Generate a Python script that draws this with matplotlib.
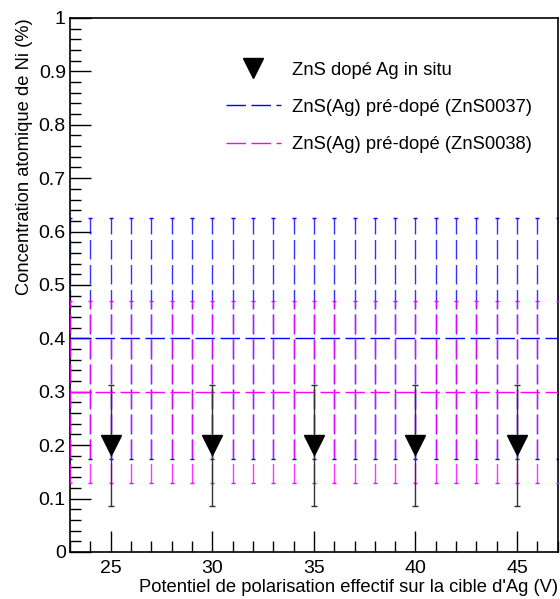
import matplotlib
matplotlib.use("Agg")
import matplotlib.pyplot as plt
from matplotlib.lines import Line2D
from matplotlib.ticker import MultipleLocator

plt.rcParams['font.family'] = ['Liberation Sans', 'DejaVu Sans']

# série "in situ"
x_insitu = [25, 30, 35, 40, 45]
y_insitu = [0.2, 0.2, 0.2, 0.2, 0.2]
err_insitu = [0.113, 0.113, 0.113, 0.113, 0.113]

# séries pré-dopées (valeur constante sur toute la gamme)
x_ref = list(range(23, 48))
y_0037 = [0.4] * len(x_ref)
err_0037 = [0.225] * len(x_ref)
y_0038 = [0.3] * len(x_ref)
err_0038 = [0.17] * len(x_ref)

labels = ["ZnS dopé Ag in situ",
          "ZnS(Ag) pré-dopé (ZnS0037)",
          "ZnS(Ag) pré-dopé (ZnS0038)"]

fig = plt.figure(figsize=(5.6, 5.99), dpi=100)
ax = fig.add_axes([0.125, 0.0785, 0.871, 0.8915])

dash = (0, (14, 4))

eb1 = ax.errorbar(x_ref, y_0037, yerr=err_0037, color='#0000ff', lw=1,
                  ls=dash, capsize=1.5, elinewidth=1, zorder=2)
eb1[2][0].set_linestyle(dash)
eb1[2][0].set_alpha(0.8)

eb2 = ax.errorbar(x_ref, y_0038, yerr=err_0038, color='#ff00ff', lw=1,
                  ls=dash, capsize=1.5, elinewidth=1, zorder=3)
eb2[2][0].set_linestyle(dash)
eb2[2][0].set_alpha(0.8)

ax.errorbar(x_insitu, y_insitu, yerr=err_insitu, fmt='v', color='black',
            markersize=14, ecolor='#333333', elinewidth=1, capsize=2, zorder=4)

ax.set_xlim(23, 47)
ax.set_ylim(0, 1)
ax.xaxis.set_major_locator(MultipleLocator(5))
ax.xaxis.set_minor_locator(MultipleLocator(1))
ax.yaxis.set_major_locator(MultipleLocator(0.1))
ax.yaxis.set_minor_locator(MultipleLocator(0.02))
ax.yaxis.set_major_formatter(plt.FuncFormatter(lambda v, p: "0" if v == 0 else ("1" if abs(v - 1) < 1e-9 else f"{v:.1f}")))
ax.tick_params(which='both', direction='in', top=False, right=False, labelsize=14)
ax.tick_params(which='major', length=15, width=1)
ax.tick_params(which='minor', length=8, width=1)
ax.tick_params(axis='x', pad=6)
ax.tick_params(axis='y', pad=3)
for s in ax.spines.values():
    s.set_linewidth(1.2)

ax.set_xlabel("Potentiel de polarisation effectif sur la cible d'Ag (V)",
              fontsize=13.2, loc='right', labelpad=1)
ax.set_ylabel("Concentration atomique de Ni (%)", fontsize=13.2, loc='top', labelpad=4)

handles = [
    Line2D([], [], ls='none', marker='v', color='black', markersize=14),
    Line2D([], [], color='#0000ff', lw=1, ls=(0, (14, 4))),
    Line2D([], [], color='#ff00ff', lw=1, ls=(0, (14, 4))),
]
ax.legend(handles, labels, loc='upper left',
          bbox_to_anchor=(0.285, 0.949), frameon=False, fontsize=13.2,
          labelspacing=1.1, handlelength=3.0, handletextpad=0.65)

fig.savefig("out.png", dpi=100)
